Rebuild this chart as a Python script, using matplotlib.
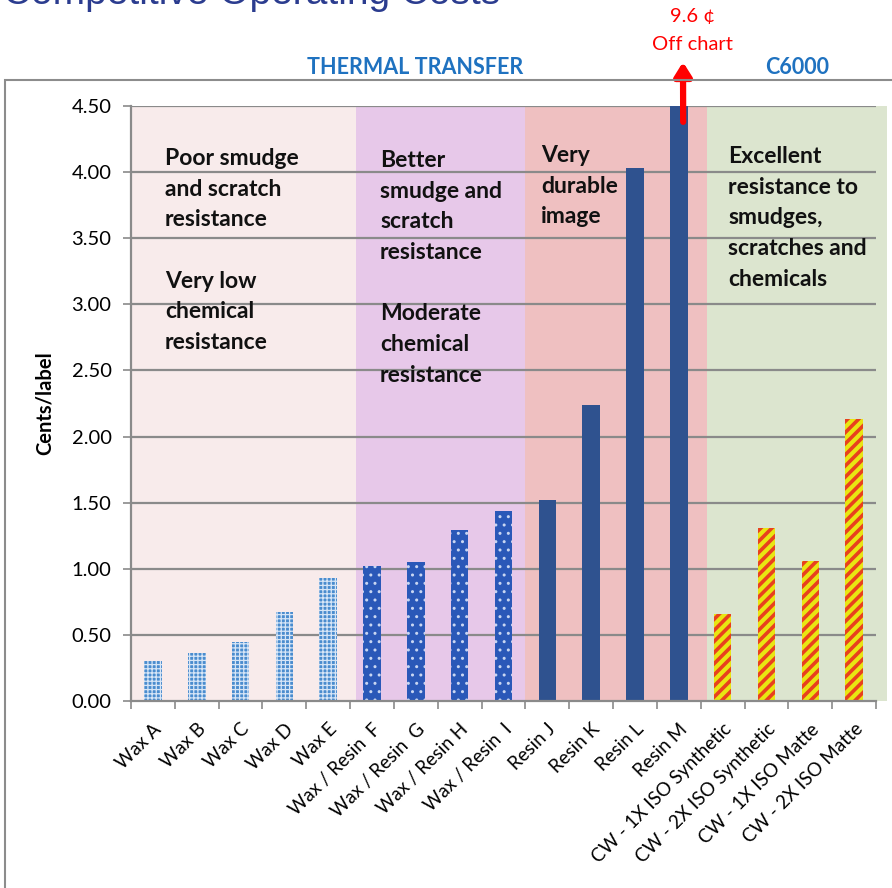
import matplotlib
matplotlib.use('Agg')
import matplotlib.pyplot as plt
from matplotlib.patches import Rectangle
import numpy as np

# data
categories = ['Wax A', 'Wax B', 'Wax C', 'Wax D', 'Wax E',
              'Wax / Resin  F', 'Wax / Resin  G', 'Wax / Resin H', 'Wax / Resin  I',
              'Resin J', 'Resin K', 'Resin L', 'Resin M',
              'CW - 1X ISO Synthetic', 'CW - 2X ISO Synthetic',
              'CW - 1X ISO Matte', 'CW - 2X ISO Matte']
values = [0.30, 0.36, 0.45, 0.67, 0.93,
          1.02, 1.05, 1.29, 1.44,
          1.52, 2.24, 4.03, 9.6,
          0.66, 1.31, 1.06, 2.13]
groups = ['wax'] * 5 + ['waxresin'] * 4 + ['resin'] * 4 + ['c6000'] * 4
yticks = [0, 0.5, 1.0, 1.5, 2.0, 2.5, 3.0, 3.5, 4.0, 4.5]

notes = {
    'wax': 'Poor smudge\nand scratch\nresistance\n\nVery low\nchemical\nresistance',
    'waxresin': 'Better\nsmudge and\nscratch\nresistance\n\nModerate\nchemical\nresistance',
    'resin': 'Very\ndurable\nimage',
    'c6000': 'Excellent\nresistance to\nsmudges,\nscratches and\nchemicals',
}

plt.rcParams['font.family'] = ['Lato', 'DejaVu Sans']

W, H = 892, 888
fig = plt.figure(figsize=(W / 100, H / 100), dpi=100)

def fx(px):
    return px / W

def fy(py):
    return 1 - py / H

# outer frame
fig.patches.append(Rectangle((fx(5), fy(1000)), 1.0, fy(80) - fy(1000), transform=fig.transFigure,
                             fill=False, edgecolor='#8c8c8c', lw=1.5))

ax = fig.add_axes([fx(131), fy(701), fx(876) - fx(131), fy(106) - fy(701)])
n = len(categories)
x = np.arange(n)
ax.set_xlim(-0.5, n - 0.5)
ax.set_ylim(0, 4.5)

# background bands
bands = [(-0.5, 4.64, '#F8EBEB'), (4.64, 8.5, '#E7C8E9'),
         (8.5, 12.65, '#EFC0C1'), (12.65, 16.76, '#DCE5CF')]
for x0, x1, c in bands:
    ax.add_patch(Rectangle((x0, 0), x1 - x0, 4.5, facecolor=c, edgecolor='none',
                           zorder=0, clip_on=False))

for yv in yticks[1:]:
    ax.axhline(yv, color='#8a8a8a', lw=1.6, zorder=1)

styles = {
    'wax': dict(facecolor='#4a8cce', edgecolor='#d6e5f6', hatch='++++', hw=0.9),
    'waxresin': dict(facecolor='#2a58b8', edgecolor='#c8d6f2', hatch='..', hw=1.0),
    'resin': dict(facecolor='#2F528F', edgecolor='#2F528F', hatch=None, hw=1.0),
    'c6000': dict(facecolor='#E8E612', edgecolor='#E8401E', hatch='///', hw=2.6),
}
for xi, v, g in zip(x, values, groups):
    st = styles[g]
    with plt.rc_context({'hatch.linewidth': st['hw']}):
        ax.bar(xi, min(v, 4.5), width=0.4, facecolor=st['facecolor'],
               edgecolor=st['edgecolor'], hatch=st['hatch'], linewidth=0, zorder=2)

for s in ['top', 'right']:
    ax.spines[s].set_visible(False)
for s in ['left', 'bottom']:
    ax.spines[s].set_color('#8a8a8a')
    ax.spines[s].set_linewidth(1.6)

ax.set_yticks(yticks)
ax.set_yticklabels(['%.2f' % t for t in yticks], fontsize=14.5)
ax.tick_params(axis='y', length=6, color='#8a8a8a', width=1.2, pad=8)
ax.set_xticks(x)
ax.set_xticklabels(categories, rotation=45, ha='right', rotation_mode='anchor', fontsize=13.5)
ax.tick_params(axis='x', which='major', length=0, pad=14)
ax.set_xticks(np.arange(-0.5, n, 1.0), minor=True)
ax.tick_params(axis='x', which='minor', length=6, color='#8a8a8a', width=1.2)
ax.set_ylabel('Cents/label', fontsize=14.5, fontweight='bold', labelpad=12)

# notes inside the bands
note_pos = {'wax': 165, 'waxresin': 380, 'resin': 541, 'c6000': 728}
note_top = {'wax': 148, 'waxresin': 150, 'resin': 145, 'c6000': 146}
for k, txt in notes.items():
    fig.text(fx(note_pos[k]), fy(note_top[k]), txt, fontsize=16.5, fontweight='bold',
             va='top', ha='left', linespacing=1.57, color='#111111')

# headers
fig.text(fx(415), fy(67), 'THERMAL TRANSFER', fontsize=15.5, fontweight='bold',
         color='#1F72C0', ha='center', va='center')
fig.text(fx(797), fy(67), 'C6000', fontsize=15.5, fontweight='bold',
         color='#1F72C0', ha='center', va='center')

# off-chart marker
fig.text(fx(692), fy(17), '9.6 \u00a2', fontsize=14.5, color='#FF0000', ha='center', va='center')
fig.text(fx(692), fy(44), 'Off chart', fontsize=14.5, color='#FF0000', ha='center', va='center')
ax.annotate('', xy=(fx(683), fy(62)), xycoords='figure fraction',
            xytext=(12.1, 4.38), textcoords='data',
            arrowprops=dict(arrowstyle='-|>,head_width=0.5,head_length=0.8',
                            color='#FF0000', lw=4.5, shrinkA=0, shrinkB=0),
            annotation_clip=False, zorder=5)

# title, cut off at the top edge
fig.text(fx(3), fy(4), 'Competitive Operating Costs', fontsize=28, color='#2B3C8F',
         family='Liberation Sans', ha='left', va='baseline')

fig.savefig('out.png', dpi=100)
